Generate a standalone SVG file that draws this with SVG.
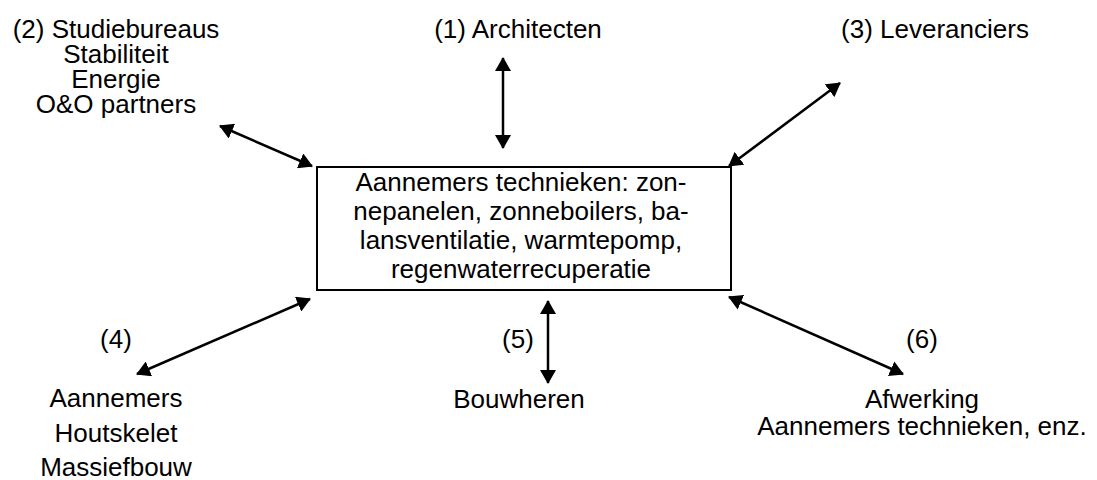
<svg xmlns="http://www.w3.org/2000/svg" width="1097" height="480" viewBox="0 0 1097 480">
<style>
text{font-family:"Liberation Sans",Arial,sans-serif;font-size:26px;fill:#000;text-anchor:middle}
.conn line{stroke:#000;stroke-width:2.5;marker-start:url(#ah);marker-end:url(#ah)}
</style>
<defs>
<marker id="ah" viewBox="0 0 14 16" refX="13" refY="8" markerWidth="14" markerHeight="16" markerUnits="userSpaceOnUse" orient="auto-start-reverse">
<path d="M0,0 L14,8 L0,16 z" fill="#000"/>
</marker>
</defs>
<rect width="1097" height="480" fill="#fff"/>
<g id="center">
<rect x="317" y="167" width="414" height="123" fill="#fff" stroke="#000" stroke-width="2"/>
<text x="521" y="191">Aannemers technieken: zon-</text>
<text x="521" y="220">nepanelen, zonneboilers, ba-</text>
<text x="521" y="249">lansventilatie, warmtepomp,</text>
<text x="521" y="278">regenwaterrecuperatie</text>
</g>
<g id="n1"><text x="518" y="38">(1) Architecten</text></g>
<g id="n2">
<text x="116" y="38">(2) Studiebureaus</text>
<text x="116" y="63">Stabiliteit</text>
<text x="116" y="88">Energie</text>
<text x="116" y="113">O&amp;O partners</text>
</g>
<g id="n3"><text x="935" y="38">(3) Leveranciers</text></g>
<g id="n4">
<text x="116" y="348">(4)</text>
<text x="116" y="407">Aannemers</text>
<text x="116" y="442">Houtskelet</text>
<text x="116" y="476">Massiefbouw</text>
</g>
<g id="n5">
<text x="518" y="348">(5)</text>
<text x="519" y="408">Bouwheren</text>
</g>
<g id="n6">
<text x="922" y="348">(6)</text>
<text x="922" y="408">Afwerking</text>
<text x="922" y="435">Aannemers technieken, enz.</text>
</g>
<g id="connectors" class="conn">
<line x1="503" y1="58" x2="503" y2="148"/>
<line x1="220" y1="126" x2="312" y2="166"/>
<line x1="840" y1="83" x2="729" y2="166"/>
<line x1="310" y1="299" x2="137" y2="374"/>
<line x1="548" y1="301" x2="548" y2="383"/>
<line x1="729" y1="297" x2="903" y2="374"/>
</g>
</svg>
